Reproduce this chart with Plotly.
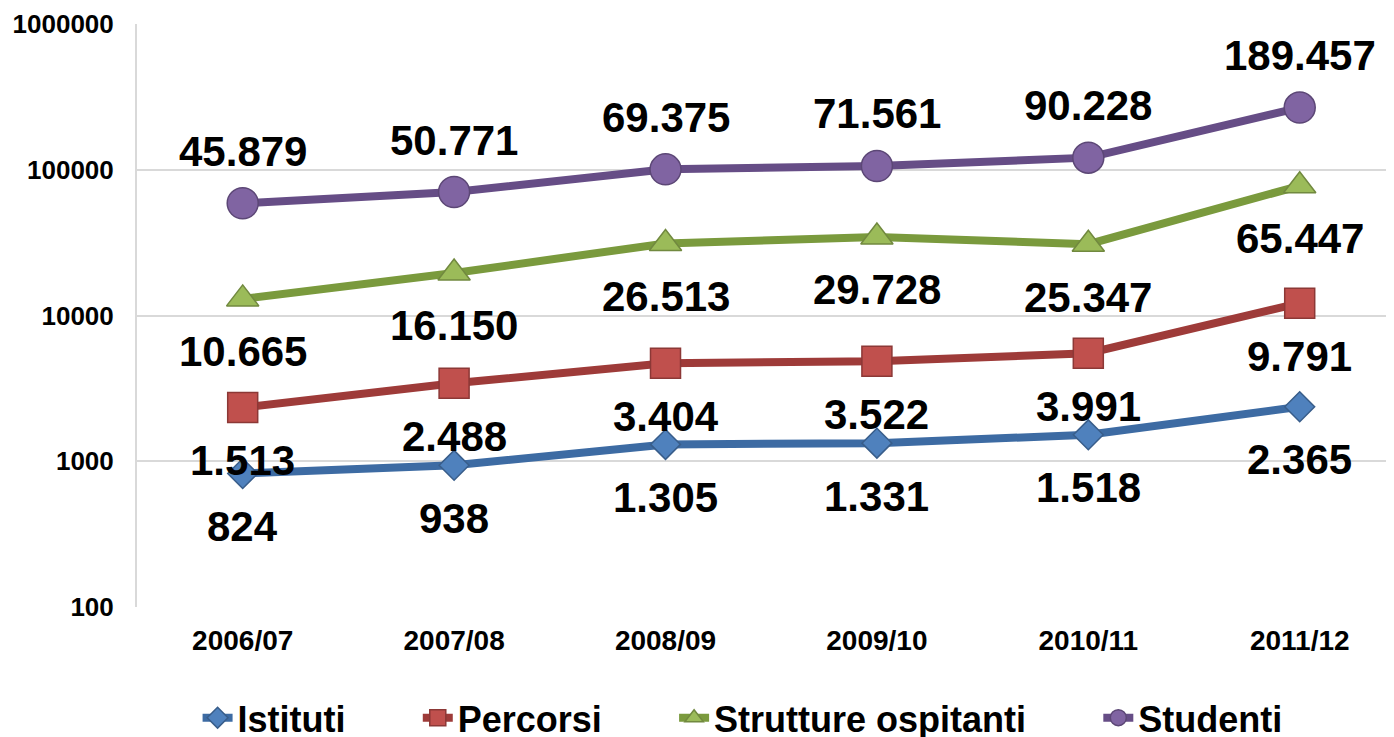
import numpy as np
import plotly.graph_objects as go

categories = ["2006/07", "2007/08", "2008/09", "2009/10", "2010/11", "2011/12"]
istituti = [824, 938, 1305, 1331, 1518, 2365]
percorsi = [1513, 2488, 3404, 3522, 3991, 9791]
strutture = [10665, 16150, 26513, 29728, 25347, 65447]
studenti = [45879, 50771, 69375, 71561, 90228, 189457]
y_ticks = [100, 1000, 10000, 100000, 1000000]

series = [
    ("Istituti", istituti, "#3D6BA3", "#4F81BD", "#385D8A", "diamond", 23, "below"),
    ("Percorsi", percorsi, "#9E3B39", "#C0504D", "#8C3836", "square", 30, "below"),
    ("Strutture ospitanti", strutture, "#7A9A3D", "#9BBB59", "#71893F", "triangle-up", 28, "below"),
    ("Studenti", studenti, "#664D86", "#8064A2", "#5C4776", "circle", 31, "above"),
]

FONT = "Liberation Sans, Arial, sans-serif"
PAD = "\u00a0" * 6 + "\u2009"
fig = go.Figure()
annotations = []
cum = np.zeros(len(categories))
for i, (name, vals, lc, mc, mb, sym, size, pos) in enumerate(series):
    cum = cum + np.array(vals, dtype=float)
    fig.add_trace(go.Scatter(
        x=categories, y=cum.tolist(),
        name=name + (PAD if i < len(series) - 1 else ""),
        mode="lines+markers",
        line=dict(color=lc, width=8),
        marker=dict(symbol=sym, size=size, color=mc, line=dict(color=mb, width=1.5)),
    ))
    for c, v, yc in zip(categories, vals, cum):
        annotations.append(dict(
            x=c, y=float(np.log10(yc)), xref="x", yref="y",
            text=f"{v:,}".replace(",", "."),
            showarrow=False, xanchor="center", yanchor="middle",
            yshift=(-53 if pos == "below" else 52),
            font=dict(family=FONT, size=42, color="#000000", weight="bold"),
        ))

# page body has an 8px default margin, so the figure is 8px smaller than the window
fig.update_layout(
    width=1386, height=729,
    margin=dict(l=129, r=0, t=16, b=130, autoexpand=False),
    paper_bgcolor="white", plot_bgcolor="white",
    annotations=annotations,
    showlegend=True,
    legend=dict(
        orientation="h", xref="container", yref="paper",
        x=0.530, y=-0.19, xanchor="center", yanchor="middle",
        font=dict(family=FONT, size=36, color="#000000", weight="bold"),
        tracegroupgap=0,
    ),
    font=dict(family=FONT),
)
fig.update_xaxes(
    type="category", range=[-0.5, 5.446],
    showgrid=False, showline=False, zeroline=False, ticks="",
    ticklabelstandoff=14,
    tickfont=dict(family=FONT, size=28, color="#000000", weight="bold"),
)
fig.update_yaxes(
    type="log", range=[2, 6],
    tickvals=y_ticks, ticktext=["%d" % t for t in y_ticks],
    showgrid=True, gridcolor="#D9D9D9", gridwidth=2,
    showline=True, linecolor="#D9D9D9", linewidth=2,
    zeroline=False, ticks="",
    ticklabelstandoff=16,
    tickfont=dict(family=FONT, size=26, color="#000000", weight="bold"),
)
fig.write_html("out.html")
